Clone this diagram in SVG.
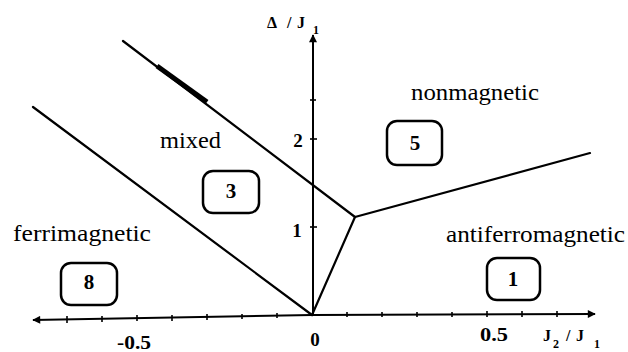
<svg xmlns="http://www.w3.org/2000/svg" width="628" height="352" viewBox="0 0 628 352" font-family="Liberation Serif, serif">
<defs>
<style>
.ln{fill:none;stroke:#000;stroke-width:2.2;stroke-linecap:round;stroke-linejoin:round}
.ax{fill:none;stroke:#000;stroke-width:2}
.tk{stroke:#000;stroke-width:1.6}
.box{fill:#fff;stroke:#000;stroke-width:2.5}
text{font-family:"Liberation Serif",serif;fill:#000}
.lbl{font-size:24px}
.num{font-size:21px;font-weight:bold;text-anchor:middle}
.axl{font-size:19px;font-weight:bold}
.axs{font-size:16px;font-weight:bold}
.sub{font-size:12px;font-weight:bold}
</style>
<marker id="ah" viewBox="0 0 10 10" refX="9" refY="5" markerWidth="12" markerHeight="8" markerUnits="userSpaceOnUse" orient="auto">
<path d="M0,0 L10,5 L0,10 Z" fill="#000"/>
</marker>
</defs>
<rect width="628" height="352" fill="#fff"/>
<g id="axes">
<line class="ax" x1="312" y1="315" x2="595" y2="314" marker-end="url(#ah)"/>
<line class="ax" x1="312" y1="315" x2="33" y2="320" marker-end="url(#ah)"/>
<line class="ax" x1="313" y1="315" x2="313" y2="35" marker-end="url(#ah)"/>
<g class="tk">
<line x1="67" y1="316" x2="67" y2="323"/><line x1="102" y1="316" x2="102" y2="322"/><line x1="137" y1="315" x2="137" y2="321"/><line x1="172" y1="315" x2="172" y2="321"/><line x1="207" y1="314" x2="207" y2="320"/><line x1="242" y1="314" x2="242" y2="319"/><line x1="277" y1="313" x2="277" y2="318"/>
<line x1="347" y1="312" x2="347" y2="317"/><line x1="382" y1="312" x2="382" y2="317"/><line x1="417" y1="312" x2="417" y2="317"/><line x1="452" y1="312" x2="452" y2="317"/><line x1="487" y1="311" x2="487" y2="317"/><line x1="522" y1="311" x2="522" y2="317"/><line x1="557" y1="311" x2="557" y2="317"/>
<line x1="310" y1="227" x2="317" y2="227"/><line x1="310" y1="139" x2="317" y2="139"/><line x1="310" y1="100" x2="316" y2="100"/>
</g>
<text class="axl" x="117" y="349" textLength="34" lengthAdjust="spacingAndGlyphs">-0.5</text>
<text class="axl" x="315" y="346" text-anchor="middle">0</text>
<text class="axl" x="480" y="341" textLength="28" lengthAdjust="spacingAndGlyphs">0.5</text>
<text class="axl" x="298" y="147" text-anchor="middle">2</text>
<text class="axl" x="297" y="237" text-anchor="middle">1</text>
<text class="axs" x="267" y="28">Δ</text>
<text class="axs" x="287" y="28">/</text>
<text class="axs" x="297" y="28">J</text>
<text class="sub" x="313" y="34">1</text>
<text class="axs" x="543" y="341">J</text>
<text class="sub" x="553" y="348">2</text>
<text class="axs" x="566" y="341">/</text>
<text class="axs" x="576" y="341">J</text>
<text class="sub" x="594" y="348">1</text>
</g>
<g id="connectors">
<polyline class="ln" points="123,41 355,217"/>
<line x1="157" y1="66" x2="207" y2="102" stroke="#000" stroke-width="5"/>
<polyline class="ln" points="33,107 312,315"/>
<polyline class="ln" points="312,315 355,217"/>
<polyline class="ln" points="355,217 590,153"/>
</g>
<g id="node-5">
<text class="lbl" x="411" y="100" textLength="128" lengthAdjust="spacingAndGlyphs">nonmagnetic</text>
<rect class="box" x="387" y="121" width="55" height="44" rx="10"/>
<text class="num" x="415" y="150">5</text>
</g>
<g id="node-3">
<text class="lbl" x="160" y="148" textLength="61" lengthAdjust="spacingAndGlyphs">mixed</text>
<rect class="box" x="203" y="171" width="56" height="42" rx="10"/>
<text class="num" x="231" y="198">3</text>
</g>
<g id="node-8">
<text class="lbl" x="13" y="241" textLength="138" lengthAdjust="spacingAndGlyphs">ferrimagnetic</text>
<rect class="box" x="61" y="263" width="56" height="42" rx="10"/>
<text class="num" x="89" y="289">8</text>
</g>
<g id="node-1">
<text class="lbl" x="446" y="242" textLength="179" lengthAdjust="spacingAndGlyphs">antiferromagnetic</text>
<rect class="box" x="487" y="258" width="53" height="42" rx="10"/>
<text class="num" x="513" y="286">1</text>
</g>
</svg>
